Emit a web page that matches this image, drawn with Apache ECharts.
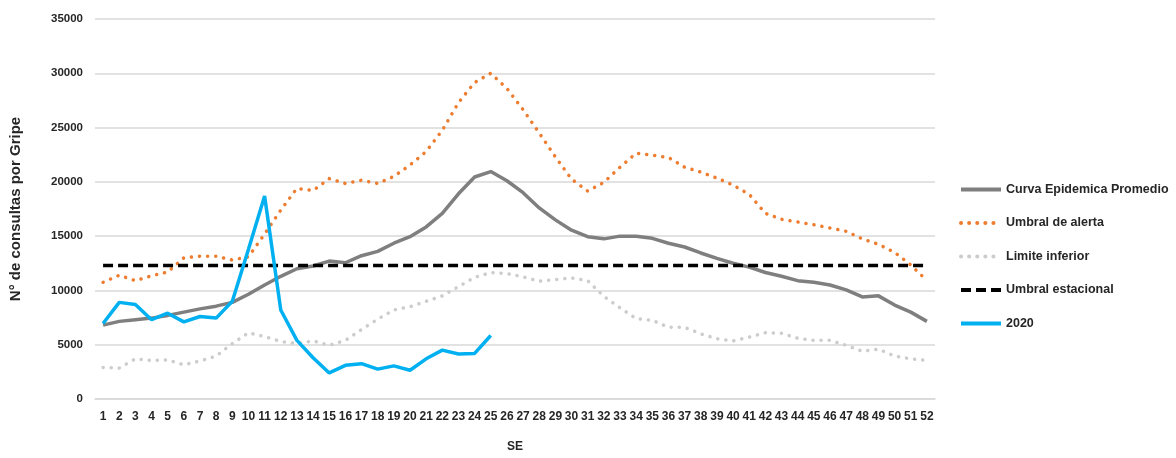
<!DOCTYPE html>
<html>
<head>
<meta charset="utf-8">
<script src="https://cdn.jsdelivr.net/npm/echarts@6/dist/echarts.min.js"></script>
<style>
html,body{margin:0;padding:0;background:#fff;}
#chart{width:1176px;height:458px;}
</style>
</head>
<body>
<div id="chart"></div>
<script>
var weeks = [];
for (var i = 1; i <= 52; i++) weeks.push(String(i));

var curvaPromedio = [6800,7150,7300,7450,7700,8000,8300,8550,8900,9650,10500,11300,12000,12250,12700,12550,13200,13600,14350,14950,15850,17100,18900,20450,20950,
  20100,19000,17600,16500,15550,14950,14750,15000,15000,14800,14350,14000,13450,12950,12500,12150,11650,11300,10900,10750,10500,10050,9400,9500,8650,8000,7150];

var umbralAlerta = [10750,11400,10900,11350,11700,13000,13150,13150,12800,13100,15200,17400,19400,19200,20300,19850,20150,19850,20500,21550,22800,24750,27300,29150,30000,
  28600,26650,24500,22300,20250,19150,19950,21350,22650,22450,22250,21350,20900,20350,19700,18850,17100,16550,16300,16050,15750,15450,14750,14250,13500,12350,10900];

var limiteInferior = [2900,2850,3700,3550,3600,3150,3500,3950,5100,6100,5750,5300,5100,5350,4950,5400,6400,7350,8200,8500,9000,9500,10350,11200,11650,
  11550,11250,10850,11000,11150,10900,9450,8400,7400,7250,6600,6600,6000,5550,5350,5700,6100,6050,5600,5400,5400,4950,4400,4600,3950,3700,3550];

var umbralEstacional = [];
for (var j = 0; j < 52; j++) umbralEstacional.push(12300);

var casos2020 = [6950,8900,8700,7300,7900,7100,7600,7450,9000,13800,18700,8200,5400,3800,2400,3100,3250,2750,3050,2650,3700,4500,4150,4200,5850];

var seriesNames = ['Curva Epidemica Promedio','Umbral de alerta','Limite inferior','Umbral estacional','2020'];
var yTicks = {min:0, max:35000, interval:5000};

var FONT = 'Liberation Sans';
var chart = echarts.init(document.getElementById('chart'));
chart.setOption({
  animation:false,
  backgroundColor:'#ffffff',
  grid:{left:94, right:241, top:19, bottom:47},
  legend:{
    orient:'vertical',
    left:954, top:178,
    itemWidth:40, itemHeight:14, itemGap:20.5,
    itemStyle:{opacity:0},
    lineStyle:{width:4},
    textStyle:{fontFamily:FONT, fontWeight:'bold', fontSize:12.5, color:'#262626', padding:[0,0,0,0]},
    data:seriesNames
  },
  xAxis:{
    type:'category', data:weeks, boundaryGap:true,
    name:'SE', nameLocation:'middle', nameGap:42,
    nameTextStyle:{fontFamily:FONT, fontWeight:'bold', fontSize:12, color:'#262626'},
    axisLine:{lineStyle:{color:'#d9d9d9', width:1.5}},
    axisTick:{show:false},
    axisLabel:{interval:0, margin:12, fontFamily:FONT, fontWeight:'bold', fontSize:12, color:'#262626'}
  },
  yAxis:{
    type:'value', min:yTicks.min, max:yTicks.max, interval:yTicks.interval,
    name:'N° de consultas por Gripe', nameLocation:'middle', nameGap:72, nameRotate:90,
    nameTextStyle:{fontFamily:FONT, fontWeight:'bold', fontSize:15, color:'#262626'},
    axisLine:{show:false}, axisTick:{show:false},
    axisLabel:{margin:12, fontFamily:FONT, fontWeight:'bold', fontSize:11.5, color:'#262626',
      formatter:function(v){return String(v);}},
    splitLine:{lineStyle:{color:'#d9d9d9', width:1.5}}
  },
  series:[
    {name:seriesNames[0], type:'line', data:curvaPromedio, showSymbol:false, symbol:'none',
     itemStyle:{color:'#7f7f7f'}, lineStyle:{color:'#7f7f7f', width:3.5}},
    {name:seriesNames[1], type:'line', data:umbralAlerta, showSymbol:false, symbol:'none',
     itemStyle:{color:'#ed7d31'}, lineStyle:{color:'#ed7d31', width:3.5, type:[0.1,8], cap:'round'}},
    {name:seriesNames[2], type:'line', data:limiteInferior, showSymbol:false, symbol:'none',
     itemStyle:{color:'#cccccc'}, lineStyle:{color:'#cccccc', width:3.5, type:[0.1,8], cap:'round'}},
    {name:seriesNames[3], type:'line', data:umbralEstacional, showSymbol:false, symbol:'none',
     itemStyle:{color:'#000000'}, lineStyle:{color:'#000000', width:3.5, type:[10,5]}},
    {name:seriesNames[4], type:'line', data:casos2020, showSymbol:false, symbol:'none',
     itemStyle:{color:'#00b0f0'}, lineStyle:{color:'#00b0f0', width:3.5}}
  ]
});
</script>
</body>
</html>
